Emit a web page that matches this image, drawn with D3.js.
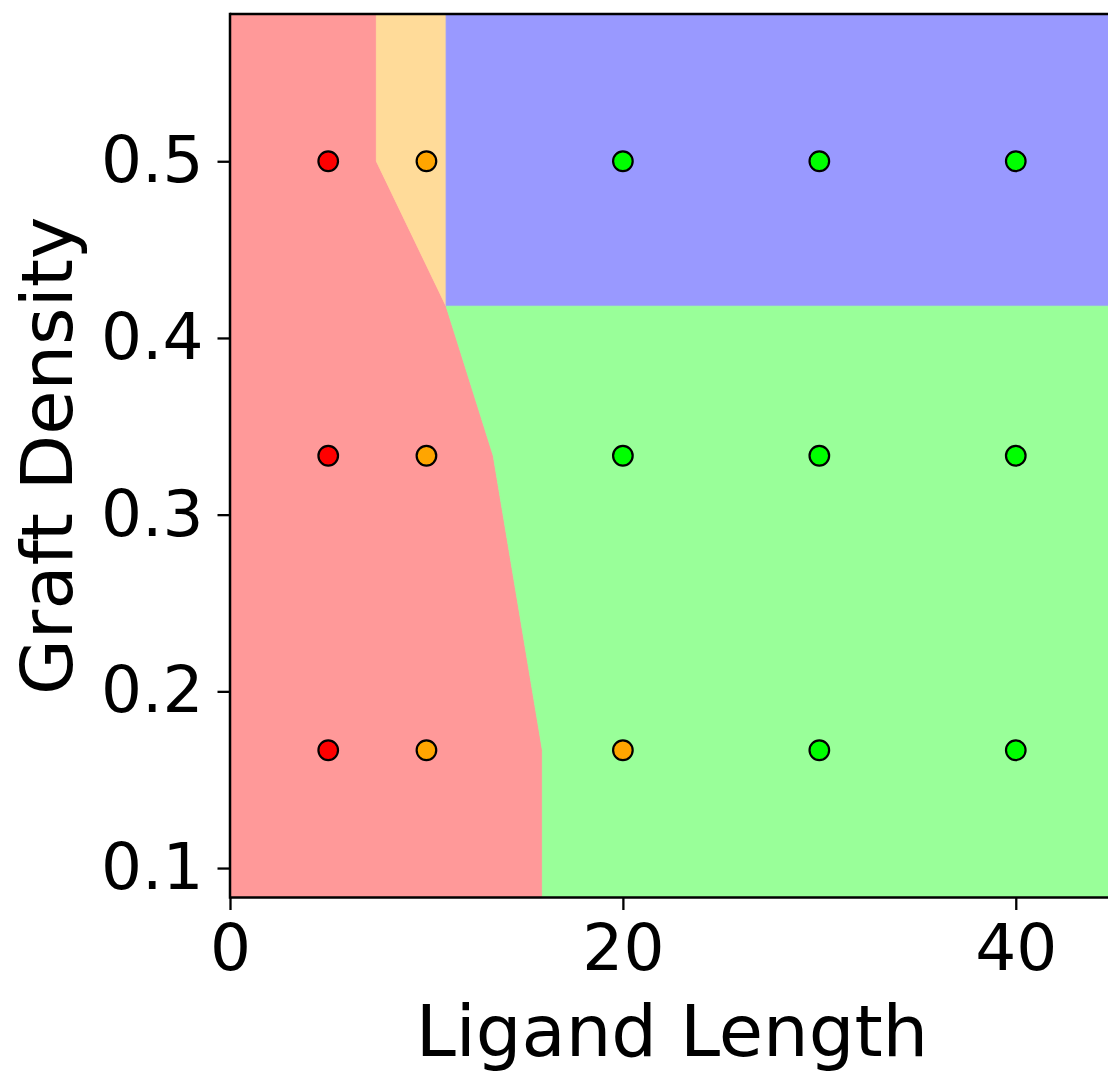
<!DOCTYPE html>
<html>
<head>
<meta charset="utf-8">
<script src="https://cdn.jsdelivr.net/npm/d3@7"></script>
<style>
  html, body { margin: 0; padding: 0; background: #fff; }
  svg { display: block; }
  text { font-family: "DejaVu Sans", sans-serif; fill: #000; }
</style>
</head>
<body>
<svg id="chart" width="1108" height="1072"></svg>
<script>
// Simulation grid: ligand lengths and graft densities sampled
const ligandLengths = [5, 10, 20, 30, 40];
const graftDensities = [1 / 6, 1 / 3, 1 / 2];

// Observed phase at each grid point, one row per graft density (low -> high)
const observedPhase = [
  ["red", "orange", "orange", "lime", "lime"],   // 1/6
  ["red", "orange", "lime",   "lime", "lime"],   // 1/3
  ["red", "orange", "lime",   "lime", "lime"]    // 1/2
];

// Axis limits and ticks
const xDomain = [0, 45];
const yDomain = [1 / 12, 7 / 12];
const xTicks = [0, 20, 40];
const yTicks = [0.1, 0.2, 0.3, 0.4, 0.5];

// Phase boundaries in (ligand length, graft density)
const redBoundary = [[7.45, 7 / 12], [7.45, 0.5], [11.0, 0.418], [13.4, 1 / 3], [15.9, 1 / 6], [15.9, 1 / 12]];
const orangeBlueLength = 11.0;
const blueGreenDensity = 0.418;

const phaseFill = {
  red: "rgb(255,153,153)",
  orange: "rgb(255,219,153)",
  blue: "rgb(153,153,255)",
  lime: "rgb(153,255,153)"
};
const markerFill = { red: "#ff0000", orange: "#ffa500", lime: "#00ff00" };

const margin = { left: 230, top: 14 };
const plotW = 884, plotH = 883.5;

const svg = d3.select("#chart");
const x = d3.scaleLinear().domain(xDomain).range([margin.left, margin.left + plotW]);
const y = d3.scaleLinear().domain(yDomain).range([margin.top + plotH, margin.top]);

const [x0, x1] = xDomain, [y0, y1] = yDomain;
const joint = redBoundary[2]; // where red, orange, blue and green meet

const regions = [
  // red: left edge, then down along the boundary
  { phase: "red", pts: [[x0, y1], ...redBoundary, [x0, y0]] },
  // orange: narrow wedge between red boundary and x = orangeBlueLength
  { phase: "orange", pts: [redBoundary[0], [orangeBlueLength, y1], [orangeBlueLength, blueGreenDensity], redBoundary[1]] },
  // blue: upper right block
  { phase: "blue", pts: [[orangeBlueLength, y1], [x1, y1], [x1, blueGreenDensity], [orangeBlueLength, blueGreenDensity]] },
  // green: joint -> right edge -> bottom -> back up along the red boundary
  { phase: "lime", pts: [joint, [x1, blueGreenDensity], [x1, y0], ...redBoundary.slice(3).reverse()] }
];

const line = d3.line().x(d => x(d[0])).y(d => y(d[1]));

svg.append("defs").append("clipPath").attr("id", "plotclip")
  .append("rect")
  .attr("x", x(x0)).attr("y", y(y1))
  .attr("width", x(x1) - x(x0)).attr("height", y(y0) - y(y1));

const plot = svg.append("g").attr("clip-path", "url(#plotclip)");

plot.selectAll("path.region")
  .data(regions)
  .join("path")
  .attr("class", "region")
  .attr("d", d => line(d.pts) + "Z")
  .attr("fill", d => phaseFill[d.phase])
  .attr("stroke", d => phaseFill[d.phase])
  .attr("stroke-width", 0.8);

const points = [];
graftDensities.forEach((g, i) => {
  ligandLengths.forEach((L, j) => points.push({ L, g, phase: observedPhase[i][j] }));
});

plot.selectAll("circle.obs")
  .data(points)
  .join("circle")
  .attr("class", "obs")
  .attr("cx", d => x(d.L))
  .attr("cy", d => y(d.g))
  .attr("r", 9.8)
  .attr("fill", d => markerFill[d.phase])
  .attr("stroke", "#000")
  .attr("stroke-width", 2.2);

// Axes
const xAxis = d3.axisBottom(x).tickValues(xTicks).tickFormat(d3.format("d"))
  .tickSize(12.5).tickPadding(14.5).tickSizeOuter(0);
const yAxis = d3.axisLeft(y).tickValues(yTicks).tickFormat(d3.format(".1f"))
  .tickSize(12.5).tickPadding(14).tickSizeOuter(0);

const gx = svg.append("g").attr("transform", `translate(0,${y(y0)})`).call(xAxis);
const gy = svg.append("g").attr("transform", `translate(${x(x0)},0)`).call(yAxis);

[gx, gy].forEach(g => {
  g.select(".domain").remove();
  g.selectAll(".tick line").attr("stroke", "#000").attr("stroke-width", 2.3);
  g.selectAll(".tick text").attr("font-size", 64.5).attr("font-family", "DejaVu Sans").attr("fill", "#000");
});

// Spines (left, bottom, top; the right one lies beyond the page edge)
const spine = svg.append("g").attr("stroke", "#000").attr("stroke-width", 2.5).attr("fill", "none");
spine.append("line").attr("x1", x(x0)).attr("x2", x(x0)).attr("y1", y(y0) + 1.25).attr("y2", y(y1) - 1.25);
spine.append("line").attr("x1", x(x0)).attr("x2", x(x1)).attr("y1", y(y0)).attr("y2", y(y0));
spine.append("line").attr("x1", x(x0)).attr("x2", x(x1)).attr("y1", y(y1)).attr("y2", y(y1));

// Axis titles
svg.append("text")
  .attr("x", (x(x0) + x(x1)) / 2)
  .attr("y", 1056)
  .attr("text-anchor", "middle")
  .attr("font-size", 72)
  .text("Ligand Length");

svg.append("text")
  .attr("transform", `translate(72,${(y(y0) + y(y1)) / 2}) rotate(-90)`)
  .attr("text-anchor", "middle")
  .attr("font-size", 72)
  .text("Graft Density");
</script>
</body>
</html>
